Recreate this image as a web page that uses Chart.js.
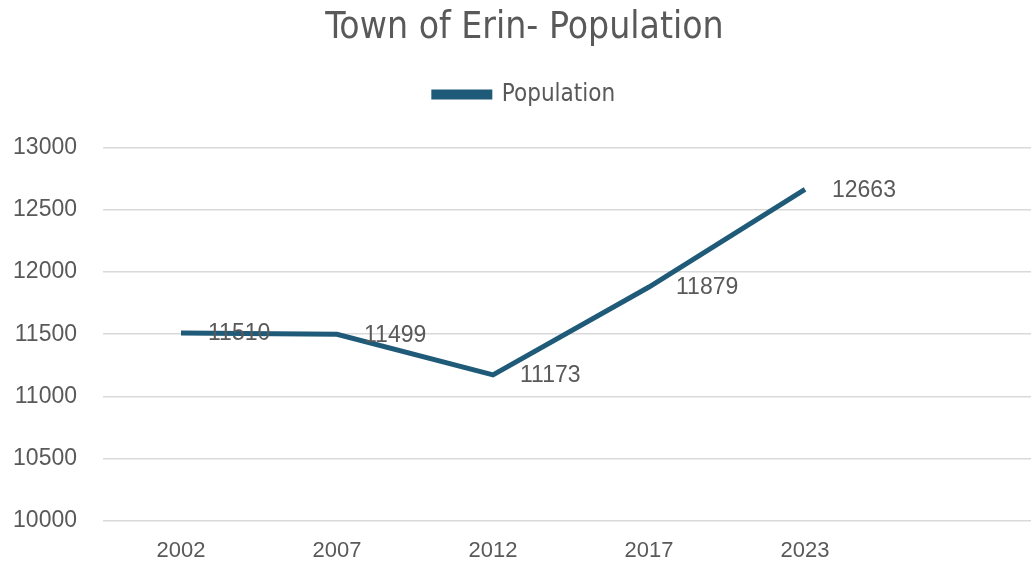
<!DOCTYPE html>
<html lang="en">
<head>
    <meta charset="UTF-8">
    <title>Town of Erin- Population</title>
    <style>
        html, body { margin: 0; padding: 0; background: #fff; overflow: hidden; }
        #wrap { width: 1045px; height: 561px; }
    </style>
</head>
<body>
    <div id="wrap"><canvas id="chart"></canvas></div>
    <script src="https://cdn.jsdelivr.net/npm/chart.js"></script>
    <script>
        // data
        const years = ['2002', '2007', '2012', '2017', '2023', ''];
        const population = [11510, 11499, 11173, 11879, 12663, null];
        const yTicks = [10000, 10500, 11000, 11500, 12000, 12500, 13000];

        const lineColor = '#1f5b79';
        const textColor = '#595959';
        const narrow = '"Liberation Sans Narrow", "DejaVu Sans Condensed", sans-serif';
        const plain = '"Liberation Sans", Arial, sans-serif';

        // labels to the right of each point
        const pointLabels = {
            id: 'pointLabels',
            afterDatasetsDraw(chart) {
                const ctx = chart.ctx;
                const meta = chart.getDatasetMeta(0);
                ctx.save();
                ctx.font = '23px ' + plain;
                ctx.fillStyle = textColor;
                ctx.textAlign = 'left';
                ctx.textBaseline = 'middle';
                meta.data.forEach((pt, i) => {
                    const v = population[i];
                    if (v == null) return;
                    ctx.fillText(String(v), pt.x + 27, pt.y + 1);
                });
                ctx.restore();
            }
        };

        // extra room under the legend
        const legendGap = {
            id: 'legendGap',
            beforeInit(chart) {
                const fit = chart.legend.fit;
                chart.legend.fit = function () {
                    fit.bind(chart.legend)();
                    this.height += 31;
                };
            }
        };

        new Chart(document.getElementById('chart'), {
            type: 'line',
            data: {
                labels: years,
                datasets: [{
                    label: 'Population',
                    data: population,
                    borderColor: lineColor,
                    backgroundColor: lineColor,
                    borderWidth: 5,
                    pointRadius: 0,
                    tension: 0
                }]
            },
            options: {
                responsive: true,
                maintainAspectRatio: false,
                animation: false,
                layout: { padding: { left: 10, right: 6, top: 6, bottom: 0 } },
                plugins: {
                    title: {
                        display: true,
                        text: 'Town of Erin- Population',
                        color: textColor,
                        font: { family: narrow, size: 37, weight: 'normal' },
                        padding: { top: 0, bottom: 4 }
                    },
                    legend: {
                        display: true,
                        labels: {
                            color: textColor,
                            boxWidth: 56,
                            boxHeight: 5,
                            font: { family: narrow, size: 24 },
                            padding: 28
                        }
                    },
                    tooltip: { enabled: false }
                },
                scales: {
                    x: {
                        offset: true,
                        grid: { display: false },
                        border: { display: false },
                        ticks: {
                            color: textColor,
                            font: { family: plain, size: 22 },
                            padding: 9
                        },
                        afterFit(axis) { axis.height = 40; }
                    },
                    y: {
                        min: 10000,
                        max: 13000,
                        afterBuildTicks(axis) { axis.ticks = yTicks.map(v => ({ value: v })); },
                        grid: { color: '#d9d9d9', lineWidth: 1.5, drawTicks: false },
                        border: { display: false },
                        ticks: {
                            color: textColor,
                            font: { family: plain, size: 23 },
                            padding: 26,
                            callback: v => String(v)
                        },
                        afterFit(axis) { axis.width = 93; }
                    }
                }
            },
            plugins: [pointLabels, legendGap]
        });
    </script>
</body>
</html>
